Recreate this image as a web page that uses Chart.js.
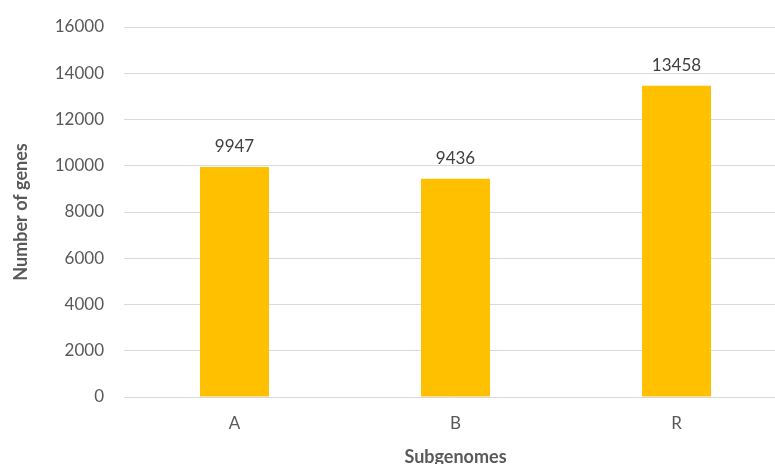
<!DOCTYPE html>
<html>
<head>
<meta charset="utf-8">
<script src="https://cdn.jsdelivr.net/npm/chart.js@4"></script>
<style>
  html, body { margin: 0; padding: 0; overflow: hidden; background: #fff; }
  #wrap { width: 787px; height: 476px; position: relative; }
</style>
</head>
<body>
<div id="wrap"><canvas id="chart"></canvas></div>
<script>
// values
var subgenomes = ["A", "B", "R"];
var geneCounts = [9947, 9436, 13458];
var yMax = 16000;
var yStep = 2000;

var font = "Lato, 'Open Sans', sans-serif";

// labels on top of bars
var barLabels = {
  id: "barLabels",
  afterDatasetsDraw: function(chart) {
    var ctx = chart.ctx;
    var meta = chart.getDatasetMeta(0);
    ctx.save();
    ctx.font = "17px " + font;
    ctx.fillStyle = "#404040";
    ctx.textAlign = "center";
    ctx.textBaseline = "alphabetic";
    meta.data.forEach(function(bar, i) {
      ctx.fillText(String(geneCounts[i]), bar.x, bar.y - 15);
    });
    ctx.restore();
  }
};

new Chart(document.getElementById("chart"), {
  type: "bar",
  data: {
    labels: subgenomes,
    datasets: [{
      data: geneCounts,
      backgroundColor: "#FFC000",
      borderWidth: 0,
      categoryPercentage: 1,
      barPercentage: 0.312
    }]
  },
  options: {
    responsive: true,
    maintainAspectRatio: false,
    animation: false,
    layout: { padding: { top: 27, left: 0, right: 0, bottom: 0 } },
    plugins: { legend: { display: false }, tooltip: { enabled: false } },
    scales: {
      x: {
        grid: { display: false, drawTicks: false },
        border: { display: false },
        ticks: { color: "#595959", font: { family: font, size: 17 }, padding: 16 },
        title: {
          display: true, text: "Subgenomes", color: "#595959",
          font: { family: font, size: 18, weight: "bold" },
          padding: { top: 12, bottom: 8 }
        },
        afterFit: function(s) { s.height = 476 - 397; s.paddingLeft = 0; s.paddingRight = 0; }
      },
      y: {
        min: 0, max: yMax,
        grid: { color: "#d9d9d9", lineWidth: 1, drawTicks: false },
        border: { display: false },
        ticks: {
          stepSize: yStep, color: "#595959", font: { family: font, size: 17 }, padding: 20,
          callback: function(v) { return String(v); }
        },
        title: {
          display: true, text: "Number of genes", color: "#595959",
          font: { family: font, size: 18, weight: "bold" },
          padding: { top: 10, bottom: 0 }
        },
        afterFit: function(s) { s.width = 124; s.paddingTop = 0; s.paddingBottom = 0; }
      }
    }
  },
  plugins: [barLabels]
});
</script>
</body>
</html>
